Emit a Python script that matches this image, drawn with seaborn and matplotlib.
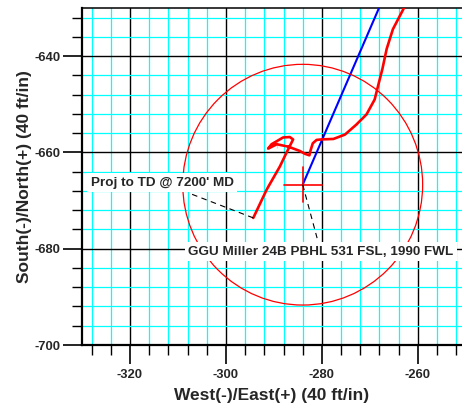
import matplotlib
matplotlib.use("Agg")
import matplotlib.pyplot as plt
import matplotlib.patches as mpatches
from matplotlib.ticker import MultipleLocator
import seaborn as sns
import pandas as pd

path_east = [-262.9, -265.2, -266.5, -267.4, -268.3, -269.0, -270.7, -272.8,
             -275.2, -277.6, -280.1, -281.1, -281.9, -282.4, -282.6, -283.5,
             -284.6, -287.0, -289.4, -291.2, -290.5, -289.4, -288.1, -286.7,
             -286.0, -286.5, -287.4, -288.75, -291.5, -294.3]
path_north = [-630.0, -634.4, -638.5, -642.7, -646.2, -649.0, -652.1, -654.2,
              -656.3, -657.2, -657.3, -657.4, -658.1, -659.7, -660.6, -660.3,
              -659.7, -658.8, -659.0, -659.2, -658.3, -657.6, -656.9, -656.8,
              -657.3, -658.3, -660.1, -662.9, -667.7, -673.6]

# Planned line (blue) to target
plan_east = [-284.0, -268.1]
plan_north = [-666.7, -630.0]

# Target (PBHL) and tolerance circle
target_east = -284.0
target_north = -666.7
target_radius = 25.0
cross_half_w = 4.0
cross_half_h = 3.7

# Labels and leader lines
proj_label = "Proj to TD @ 7200' MD"
proj_label_pos = (-328.2, -666.3)
proj_leader_east = [-294.3, -307.85]
proj_leader_north = [-673.6, -668.4]

pbhl_label = "GGU Miller 24B PBHL 531 FSL, 1990 FWL"
pbhl_label_pos = (-307.85, -680.6)
pbhl_leader_east = [-284.0, -281.0]
pbhl_leader_north = [-666.7, -677.8]

sns.set_style("white")
plt.rcParams['font.family'] = ['Liberation Sans', 'DejaVu Sans']
plt.rcParams['font.weight'] = 'bold'
plt.rcParams['axes.unicode_minus'] = False

fig = plt.figure(figsize=(4.62, 4.13), dpi=100)
ax = fig.add_axes([82 / 462, 68 / 413, 380 / 462, 337 / 413])

ax.set_xlim(-330, -250.8)
ax.set_ylim(-700, -630)

ax.xaxis.set_major_locator(MultipleLocator(20))
ax.xaxis.set_minor_locator(MultipleLocator(4))
ax.yaxis.set_major_locator(MultipleLocator(20))
ax.yaxis.set_minor_locator(MultipleLocator(4))

ax.grid(which='minor', color='#00ffff', linewidth=0.9, zorder=0)
ax.grid(which='major', color='black', linewidth=1.0, zorder=0.5)
ax.set_axisbelow(True)

path_df = pd.DataFrame({'east': path_east, 'north': path_north})
plan_df = pd.DataFrame({'east': plan_east, 'north': plan_north})

sns.lineplot(data=plan_df, x='east', y='north', sort=False, color='#0000ff',
             linewidth=1.5, ax=ax, zorder=3)
sns.lineplot(data=path_df, x='east', y='north', sort=False, color='#ff0000',
             linewidth=1.9, ax=ax, zorder=4)

circle = mpatches.Circle((target_east, target_north), target_radius,
                         fill=False, edgecolor='#ff0000', linewidth=0.9, zorder=3)
ax.add_patch(circle)
ax.plot([target_east - cross_half_w, target_east + cross_half_w],
        [target_north, target_north], color='#ff0000', linewidth=1.2, zorder=3)
ax.plot([target_east, target_east],
        [target_north - cross_half_h, target_north + cross_half_h],
        color='#ff0000', linewidth=1.2, zorder=3)

ax.plot(proj_leader_east, proj_leader_north, color='black', linestyle=(0, (5, 4)),
        linewidth=0.8, zorder=5)
ax.plot(pbhl_leader_east, pbhl_leader_north, color='black', linestyle=(0, (5, 4)),
        linewidth=0.8, zorder=5)

box = dict(facecolor='white', edgecolor='none', pad=2.5)
ax.text(proj_label_pos[0], proj_label_pos[1], proj_label, fontsize=9.7,
        fontweight='bold', ha='left', va='center', bbox=box, zorder=6)
ax.text(pbhl_label_pos[0], pbhl_label_pos[1], pbhl_label, fontsize=9.7,
        fontweight='bold', ha='left', va='center', bbox=box, zorder=6)

for side in ['left', 'bottom']:
    ax.spines[side].set_linewidth(1.6)
    ax.spines[side].set_color('black')
ax.spines['top'].set_linewidth(1.1)
ax.spines['top'].set_color('black')
ax.spines['right'].set_visible(False)

ax.tick_params(which='major', direction='out', length=13.5, width=1.2,
               color='black', labelsize=9.4, pad=2, left=True, bottom=True)
ax.tick_params(which='minor', direction='out', length=7, width=1.0,
               color='black', left=True, bottom=True)
ax.tick_params(axis='x', which='major', pad=4)
for lab in ax.get_xticklabels() + ax.get_yticklabels():
    lab.set_fontweight('bold')

ax.set_xlabel('West(-)/East(+) (40 ft/in)', fontsize=12.5, fontweight='bold',
              labelpad=5)
ax.set_ylabel('South(-)/North(+) (40 ft/in)', fontsize=12.5, fontweight='bold',
              labelpad=2)

fig.savefig('out.png', dpi=100)
